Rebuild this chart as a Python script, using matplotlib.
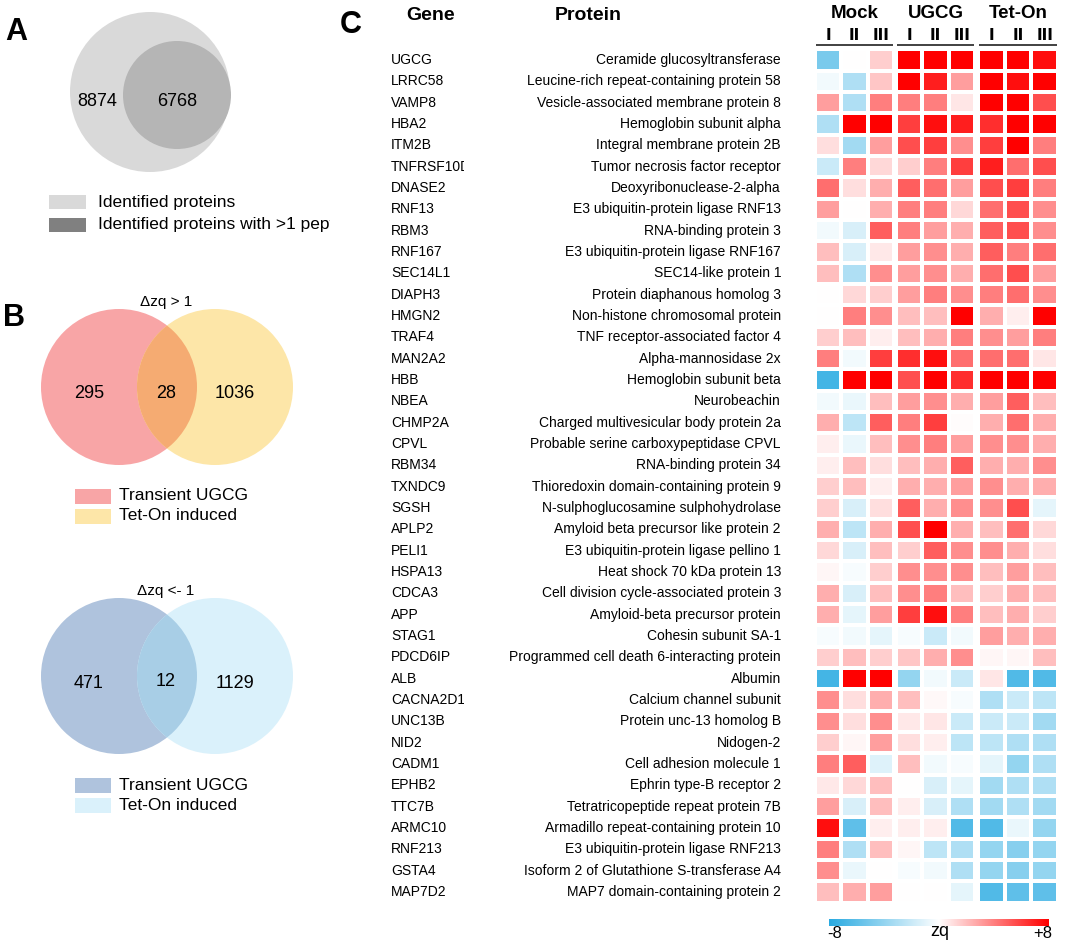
import numpy as np
import matplotlib
matplotlib.use('Agg')
import matplotlib.pyplot as plt
from matplotlib.patches import Circle, Rectangle
from matplotlib.colors import LinearSegmentedColormap

W, H = 1065, 942
plt.rcParams['font.family'] = ['Liberation Sans', 'DejaVu Sans']

# ---------------- data ----------------
genes = ["UGCG", "LRRC58", "VAMP8", "HBA2", "ITM2B", "TNFRSF10D", "DNASE2", "RNF13",
         "RBM3", "RNF167", "SEC14L1", "DIAPH3", "HMGN2", "TRAF4", "MAN2A2", "HBB",
         "NBEA", "CHMP2A", "CPVL", "RBM34", "TXNDC9", "SGSH", "APLP2", "PELI1",
         "HSPA13", "CDCA3", "APP", "STAG1", "PDCD6IP", "ALB", "CACNA2D1", "UNC13B",
         "NID2", "CADM1", "EPHB2", "TTC7B", "ARMC10", "RNF213", "GSTA4", "MAP7D2"]
proteins = ["Ceramide glucosyltransferase", "Leucine-rich repeat-containing protein 58",
            "Vesicle-associated membrane protein 8", "Hemoglobin subunit alpha",
            "Integral membrane protein 2B", "Tumor necrosis factor receptor",
            "Deoxyribonuclease-2-alpha", "E3 ubiquitin-protein ligase RNF13",
            "RNA-binding protein 3", "E3 ubiquitin-protein ligase RNF167",
            "SEC14-like protein 1", "Protein diaphanous homolog 3",
            "Non-histone chromosomal protein", "TNF receptor-associated factor 4",
            "Alpha-mannosidase 2x", "Hemoglobin subunit beta", "Neurobeachin",
            "Charged multivesicular body protein 2a", "Probable serine carboxypeptidase CPVL",
            "RNA-binding protein 34", "Thioredoxin domain-containing protein 9",
            "N-sulphoglucosamine sulphohydrolase", "Amyloid beta precursor like protein 2",
            "E3 ubiquitin-protein ligase pellino 1", "Heat shock 70 kDa protein 13",
            "Cell division cycle-associated protein 3", "Amyloid-beta precursor protein",
            "Cohesin subunit SA-1", "Programmed cell death 6-interacting protein",
            "Albumin", "Calcium channel subunit", "Protein unc-13 homolog B", "Nidogen-2",
            "Cell adhesion molecule 1", "Ephrin type-B receptor 2",
            "Tetratricopeptide repeat protein 7B", "Armadillo repeat-containing protein 10",
            "E3 ubiquitin-protein ligase RNF213", "Isoform 2 of Glutathione S-transferase A4",
            "MAP7 domain-containing protein 2"]
groups = ["Mock", "UGCG", "Tet-On"]
replicates = ["I", "II", "III"]

mock = [[-5, 0, 1.5], [-0.5, -3, 1.8], [3, -3, 4], [-3, 8, 8], [1, -3.5, 3],
        [-2, 4, 1.2], [4.5, 1, 2.5], [3, 0, 2.5], [-0.5, -1.5, 5], [2, -1.5, 0.7],
        [2, -3, 3.5], [0, 1.2, 1.5], [0, 4, 3.5], [1.5, 2, 0.5], [4, -0.5, 6],
        [-7, 8, 8], [-0.5, -0.8, 2], [2.5, -2.5, 5], [0.5, -0.8, 2], [0.5, 2, 1],
        [1.5, 2, 0.5], [1.5, -1.5, 1], [2.5, -2.5, 2.5], [1.2, -1.5, 2], [0.3, -0.3, 1.5],
        [2.5, -1.5, 2], [2.5, -1, 3], [-0.3, -0.5, -1], [1.5, 2, 1.5], [-7, 8, 8],
        [3.5, 1, 2.5], [3.5, 1, 3.5], [1.5, 0.3, 3], [4, 5, -1.2], [0.7, 1.2, 2],
        [3, -1.5, 2], [7.5, -6, 0.5], [4, -3, 2], [3.5, -0.8, 0], [2, 2.5, 3]]
ugcg = [[8, 8, 8], [8, 7, 3], [4, 4, 0.8], [6, 7.5, 7], [5.5, 6, 3.5],
        [1.5, 4, 6], [5, 4.5, 3], [4, 4, 1.2], [4, 3, 2.5], [3, 3.5, 2.5],
        [3, 3.5, 2.5], [3, 4, 3.5], [2, 2, 8], [2, 2.5, 4], [6.5, 7.5, 4.5],
        [5.5, 8, 6.5], [3, 3.5, 2.5], [4, 6, 0.1], [3.5, 4, 3], [2, 2.5, 5],
        [2.5, 2.5, 3], [5, 2.5, 3.5], [5.5, 8, 2.5], [1.5, 5, 3.5], [3.5, 3.5, 3.5],
        [3.5, 4, 2], [6, 7.5, 4], [-0.3, -2, -0.5], [1.8, 2.5, 3.5], [-4, -0.5, -2],
        [2, 0.2, -0.3], [0.7, 0.8, -2], [1, 0.5, -2.5], [2, -0.5, -0.3], [0, -1.5, -1],
        [0.5, -1.5, -3], [0.5, 0.5, -6.5], [0.3, -2.5, -3], [-0.3, -0.5, -3], [0, 0, -1]]
teton = [[8, 8, 7.5], [8, 7.5, 8], [8, 8, 5.5], [6.5, 8, 8], [6, 8, 4],
         [7, 4.5, 5.5], [5.5, 6, 4], [4.5, 5.5, 3.5], [5, 5.5, 3.5], [5, 4, 4.5],
         [4.5, 5.5, 3], [4, 4.5, 3.5], [2.5, 0.5, 8], [3.5, 3, 4], [4.5, 4.5, 0.8],
         [8, 8, 8], [3, 5, 2], [2.5, 4.5, 2.5], [3.5, 3.5, 2.5], [2.5, 2.5, 3.5],
         [3.5, 2.5, 2.5], [3.5, 5.5, -1], [2, 4.5, 1.2], [3.5, 2.5, 1], [2, 3, 2],
         [1.5, 2.5, 2], [2, 2.5, 1.5], [3, 2.5, 2.5], [0.3, 0.3, 2], [0.8, -6.5, -6.5],
         [-3, -2, -2.5], [-2, -2, -3.5], [-2.5, -3, -3], [-1, -4, -3], [-3.5, -3, -3],
         [-3.5, -3, -3.5], [-6.5, -0.8, -4], [-4, -4.5, -4], [-4, -4.5, -4], [-6.5, -6, -6]]

venn_a_labels = ["Identified proteins", "Identified proteins with >1 peptide"]
venn_a_counts = [8874, 6768]
up_title = "\u0394zq > 1"
up_counts = [295, 28, 1036]
down_title = "\u0394zq <- 1"
down_counts = [471, 12, 1129]
venn_b_labels = ["Transient UGCG", "Tet-On induced"]
zq_range = [-8, 8]

# ---------------- figure ----------------
fig = plt.figure(figsize=(W / 100, H / 100), dpi=100)
ov = fig.add_axes([0, 0, 1, 1])
ov.set_xlim(0, W)
ov.set_ylim(H, 0)
ov.axis('off')
ov.set_facecolor('none')


def px_axes(x0, y0, w, h):
    return fig.add_axes([x0 / W, 1 - (y0 + h) / H, w / W, h / H])


def clipped_text(x, y, s, xmax, **kw):
    t = ov.text(x, y, s, **kw)
    t.set_clip_on(True)
    t.set_clip_path(Rectangle((0, 0), xmax, H, transform=ov.transData))
    return t


# Panel letters
for lab, (x, y) in zip("ABC", [(16, 32), (14, 318), (351, 25)]):
    ov.text(x, y, lab, fontsize=22, fontweight='bold', ha='center', va='center')

# ---- Panel A ----
outer = Circle((150, 92), 80, facecolor='#D9D9D9', edgecolor='none')
inner = Circle((177, 95), 54, facecolor='#B5B5B5', edgecolor='none')
ov.add_patch(outer)
ov.add_patch(inner)
ov.text(97, 102, str(venn_a_counts[0]), fontsize=13, ha='center', va='center')
ov.text(177, 101, str(venn_a_counts[1]), fontsize=13, ha='center', va='center')
for i, (lab, col) in enumerate(zip(venn_a_labels, ['#D9D9D9', '#808080'])):
    yy = 202 + i * 23
    ov.add_patch(Rectangle((49, yy - 7), 37, 14, facecolor=col, edgecolor='none'))
    clipped_text(98, yy, lab, 330, fontsize=12.5, ha='left', va='center')


# ---- Panel B ----
def venn2(cy, title, counts, c1, c2, c12, leg_y):
    ov.text(166, cy - 85, title, fontsize=11, ha='center', va='center')
    a = Circle((119, cy), 78, facecolor=c1, edgecolor='none')
    b = Circle((215, cy), 78, facecolor=c2, edgecolor='none')
    ov.add_patch(a)
    ov.add_patch(b)
    o = Circle((215, cy), 78, facecolor=c12, edgecolor='none')
    ov.add_patch(o)
    o.set_clip_path(Circle((119, cy), 78, transform=ov.transData))
    ov.text(89, cy + 7, str(counts[0]), fontsize=13, ha='center', va='center')
    ov.text(166, cy + 6, str(counts[1]), fontsize=13, ha='center', va='center')
    ov.text(235, cy + 7, str(counts[2]), fontsize=13, ha='center', va='center')
    for i, (lab, col) in enumerate(zip(venn_b_labels, [c1, c2])):
        yy = leg_y + i * 20
        ov.add_patch(Rectangle((75, yy - 7.5), 36, 15, facecolor=col, edgecolor='none'))
        ov.text(119, yy, lab, fontsize=12.5, ha='left', va='center')


venn2(387, up_title, up_counts, '#F8A5A6', '#FDE6A8', '#F5AB72', 496)
venn2(676, down_title, down_counts, '#AFC3DD', '#DAF1FB', '#A8CEE6', 785)

# ---- Panel C ----
cmap = LinearSegmentedColormap.from_list('zq', ['#29AAE1', '#FFFFFF', '#FF0000'])
n = len(genes)
top, bot = 49.5, 902.5
rowh = (bot - top) / n

ov.text(431, 16, "Gene", fontsize=14, fontweight='bold', ha='center', va='center')
ov.text(588, 16, "Protein", fontsize=14, fontweight='bold', ha='center', va='center')
for i, (g, p) in enumerate(zip(genes, proteins)):
    yc = top + rowh * (i + 0.5)
    clipped_text(391, yc, g, 464, fontsize=10, ha='left', va='center')
    ov.text(781, yc, p, fontsize=10, ha='right', va='center')

group_x = [(815, 894), (896, 975), (978, 1058)]
for (x0, x1), gname, data in zip(group_x, groups, [mock, ugcg, teton]):
    ax = px_axes(x0, top, x1 - x0, bot - top)
    arr = np.array(data)
    ax.pcolormesh(arr, cmap=cmap, vmin=zq_range[0], vmax=zq_range[1],
                  edgecolors='white', linewidth=1.6)
    ax.set_xlim(0, 3)
    ax.set_ylim(n, 0)
    ax.axis('off')
    cx = (x0 + x1) / 2
    ov.text(cx, 13, gname, fontsize=13.5, fontweight='bold', ha='center', va='center')
    cw = (x1 - x0) / 3
    for j, r in enumerate(replicates):
        ov.text(x0 + cw * (j + 0.5), 36, r, fontsize=11, fontweight='bold',
                ha='center', va='center', family='DejaVu Sans')
    ov.plot([x0 + 1, x1 - 1], [45, 45], color='#333333', lw=1.3, solid_capstyle='butt')

# colorbar
cax = px_axes(829, 919, 220, 7)
grad = np.linspace(zq_range[0], zq_range[1], 256).reshape(1, -1)
cax.imshow(grad, aspect='auto', cmap=cmap, vmin=zq_range[0], vmax=zq_range[1],
           extent=[zq_range[0], zq_range[1], 0, 1])
cax.axis('off')
ov.text(835, 933, "-8", fontsize=12, ha='center', va='center')
ov.text(940, 932, "zq", fontsize=13, ha='center', va='center')
ov.text(1043, 933, "+8", fontsize=12, ha='center', va='center')

fig.savefig('out.png', dpi=100)
